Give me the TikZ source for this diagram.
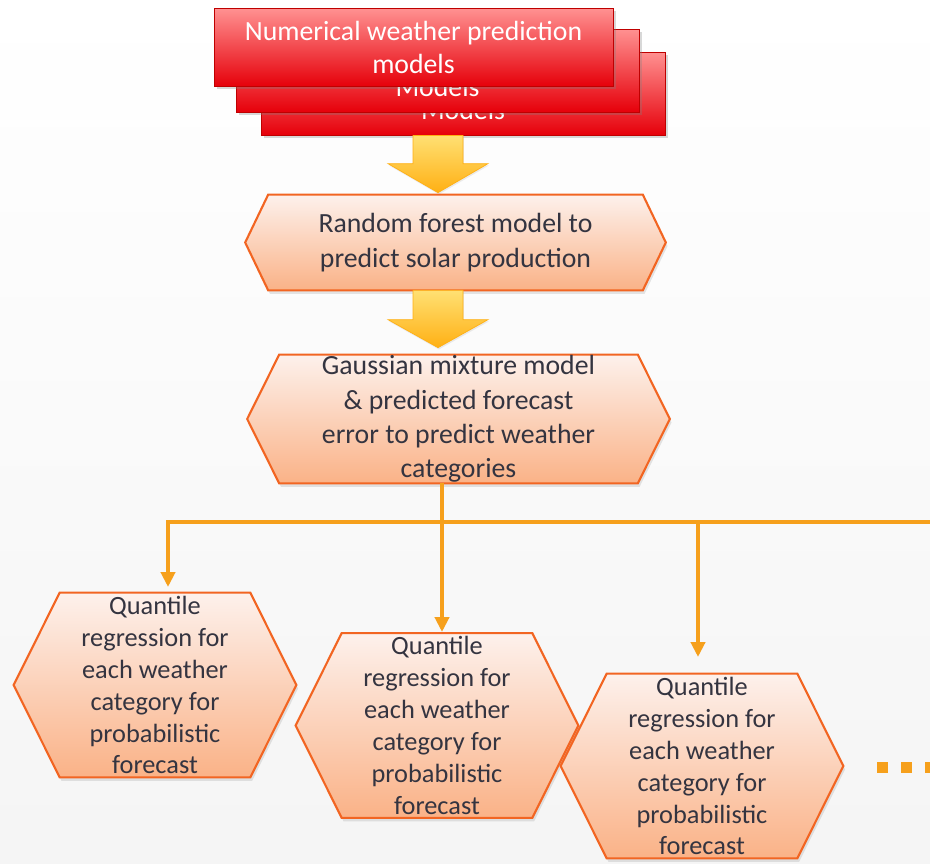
\documentclass[tikz,border=0pt]{standalone}
\usepackage{fontspec}
\setmainfont{Carlito}
\usetikzlibrary{arrows.meta,calc,shadows,backgrounds}

\definecolor{nwpred}{RGB}{230,0,10}
\definecolor{nwpmid}{RGB}{240,40,45}
\definecolor{nwppink}{RGB}{255,145,145}
\definecolor{hexline}{RGB}{242,101,34}
\definecolor{hextop}{RGB}{253,241,236}
\definecolor{hexbottom}{RGB}{250,178,135}
\definecolor{flowline}{RGB}{246,160,28}
\definecolor{arrowtop}{RGB}{255,224,115}
\definecolor{arrowbottom}{RGB}{255,176,20}
\definecolor{textgray}{RGB}{52,52,64}

\tikzset{
  nwpbox/.style={rectangle, draw=red!75!black, line width=0.5pt,
    top color=nwppink, middle color=nwpmid, bottom color=nwpred,
    drop shadow={opacity=0.3, shadow xshift=1.5pt, shadow yshift=-1.5pt},
    text=white, align=center, inner sep=0pt,
    font=\fontsize{15.8}{18.8}\selectfont},
  hextext/.style={rectangle, inner sep=0pt, align=center, text=textgray,
    font=\fontsize{15.8}{19.5}\selectfont},
  qrtext/.style={hextext, minimum width=3.8cm, minimum height=3.68cm,
    font=\fontsize{15}{18.2}\selectfont},
  hexbox/.style={draw=hexline, line width=1.2pt,
    top color=hextop, bottom color=hexbottom,
    drop shadow={opacity=0.2, shadow xshift=1pt, shadow yshift=-2pt}},
  fatarrow/.style={top color=arrowtop, bottom color=arrowbottom,
    draw=arrowbottom, line width=0.4pt,
    drop shadow={opacity=0.15, shadow xshift=0.5pt, shadow yshift=-1pt}},
  branch/.style={draw=flowline, line width=2.2pt},
  branchtip/.style={branch, -{Triangle[width=8pt,length=8.5pt]}}
}

% hexagon round a text node, #2 = how far the points stick out
\newcommand{\hexoutline}[2]{%
  \path[hexbox] ($(#1.west)+(-#2,0)$) -- (#1.north west) -- (#1.north east)
    -- ($(#1.east)+(#2,0)$) -- (#1.south east) -- (#1.south west) -- cycle;}

% block arrow from #1 down to the tip #2, head #3 long
\newcommand{\bigarrow}[3]{%
  \path[fatarrow] ($(#1)+(-25,0)$) -- ($(#2)+(-25,-#3)$) -- ($(#2)+(-50,-#3)$)
    -- (#2) -- ($(#2)+(50,-#3)$) -- ($(#2)+(25,-#3)$) -- ($(#1)+(25,0)$) -- cycle;}

\begin{document}
\begin{tikzpicture}[x=0.02cm, y=-0.02cm]
    \useasboundingbox (0,0) rectangle (930,864);

    % Weather prediction models, stacked
    \node[nwpbox, minimum width=8.08cm, minimum height=1.66cm] (nwpc) at (463,93.5)
        {\phantom{Numerical weather prediction}\\Models};
    \node[nwpbox, minimum width=8.06cm, minimum height=1.66cm] (nwpb) at (437.5,70.5)
        {\phantom{Numerical weather prediction}\\Models};
    \node[nwpbox, minimum width=7.98cm, minimum height=1.56cm] (nwpa) at (413.5,47.5)
        {Numerical weather prediction\\models};

    % Random forest and mixture model
    \node[hextext, minimum width=7.48cm, minimum height=1.9cm] (rf) at (455.5,242.5)
        {Random forest model to\\predict solar production};
    \node[hextext, minimum width=7.16cm, minimum height=2.56cm] (gmm) at (458.5,419)
        {Gaussian mixture model\\\& predicted forecast\\error to predict weather\\categories};

    % Quantile regression per category
    \node[qrtext] (qr1) at (155,685)
        {Quantile\\regression for\\each weather\\category for\\probabilistic\\forecast};
    \node[qrtext] (qr2) at (437,725.5)
        {Quantile\\regression for\\each weather\\category for\\probabilistic\\forecast};
    \node[qrtext] (qr3) at (702,766)
        {Quantile\\regression for\\each weather\\category for\\probabilistic\\forecast};

    \begin{scope}[on background layer]
        \shade[top color=white, bottom color=black!4] (0,0) rectangle (930,864);
        \hexoutline{rf}{23}
        \hexoutline{gmm}{32}
        \hexoutline{qr1}{46}
        \hexoutline{qr2}{46}
        \hexoutline{qr3}{46}
    \end{scope}

    % Block arrows
    \coordinate (ax) at (438,0);
    \coordinate (a1s) at (ax |- nwpc.south);
    \coordinate (a1e) at ($(ax |- rf.north)+(0,-2)$);
    \coordinate (a2s) at (ax |- rf.south);
    \coordinate (a2e) at ($(ax |- gmm.north)+(0,-7)$);
    \bigarrow{a1s}{a1e}{29}
    \bigarrow{a2s}{a2e}{28}

    % Branches to the categories
    \coordinate (split) at (442,522);
    \coordinate (trunkend) at (930,522);
    \coordinate (t1) at (168,587);
    \coordinate (t2) at (442,632);
    \coordinate (t3) at (698,657);
    \draw[branch] (split |- gmm.south) -- (split);
    \draw[branchtip] (trunkend) -- (t1 |- split) -- (t1);
    \draw[branchtip] (split) -- (t2);
    \draw[branchtip] (t3 |- split) -- (t3);

    % more categories
    \foreach \dx in {877,901,925}
        \fill[flowline] (\dx,762) rectangle ++(11,11);
\end{tikzpicture}
\end{document}
